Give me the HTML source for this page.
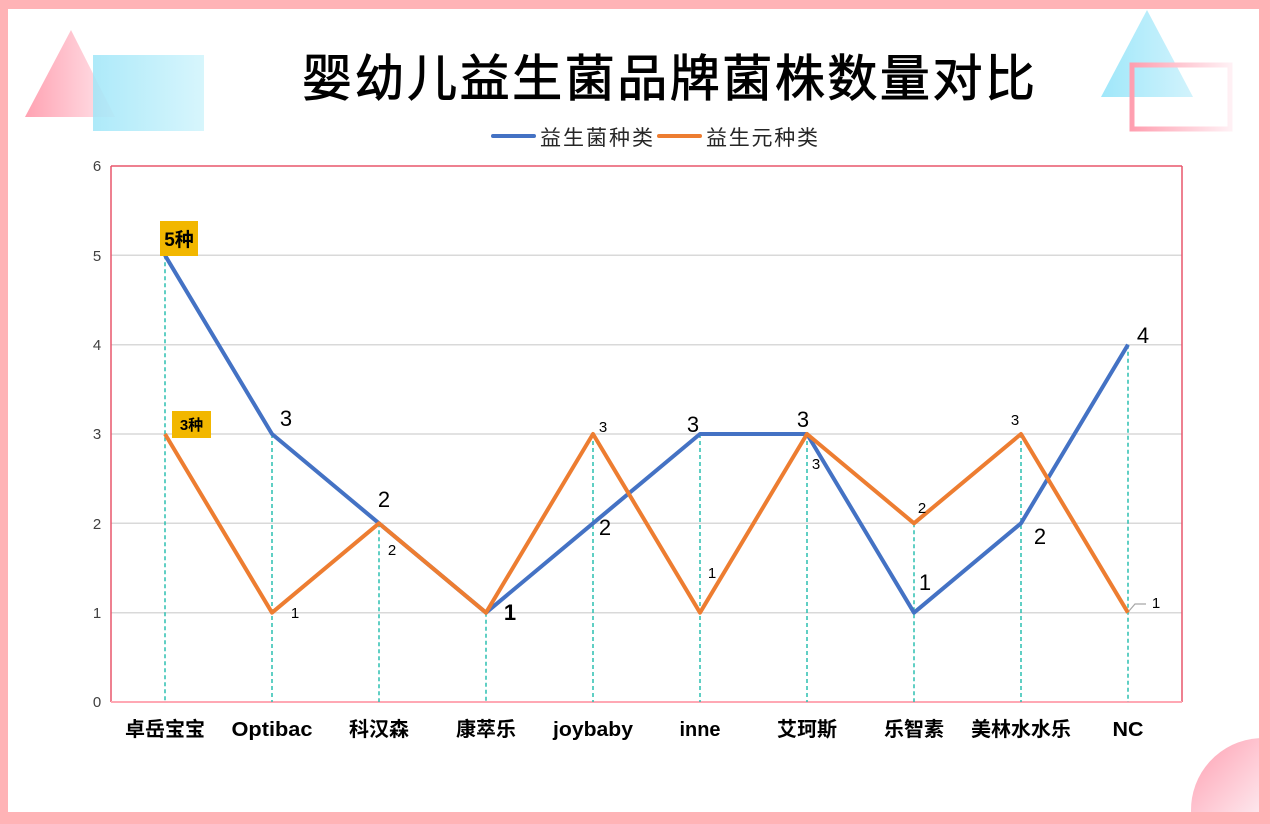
<!DOCTYPE html>
<html>
<head>
<meta charset="utf-8">
<style>
  html,body{margin:0;padding:0;background:#fff;width:1270px;height:824px;overflow:hidden;}
  svg{display:block;}
  .cjk{font-family:"Liberation Sans","Noto Sans CJK SC","WenQuanYi Zen Hei",sans-serif;}
  .num{font-family:"Liberation Sans","DejaVu Sans",sans-serif;}
</style>
</head>
<body>
<svg width="1270" height="824" viewBox="0 0 1270 824" xmlns="http://www.w3.org/2000/svg">
  <defs>
    <linearGradient id="gPinkTri" x1="0" y1="0" x2="1" y2="0">
      <stop offset="0" stop-color="#ffa2b2"/>
      <stop offset="1" stop-color="#ffe6ec"/>
    </linearGradient>
    <linearGradient id="gBlueRect" x1="0" y1="0" x2="1" y2="0">
      <stop offset="0" stop-color="#9fe6f8"/>
      <stop offset="1" stop-color="#d0f4fc"/>
    </linearGradient>
    <linearGradient id="gBlueTri" x1="0" y1="0" x2="1" y2="0">
      <stop offset="0" stop-color="#9fe7fa"/>
      <stop offset="1" stop-color="#d2f3fc"/>
    </linearGradient>
    <linearGradient id="gPinkRect" x1="0" y1="0" x2="1" y2="0">
      <stop offset="0" stop-color="#ff9fb0"/>
      <stop offset="1" stop-color="#fff0f4"/>
    </linearGradient>
    <linearGradient id="gCircle" x1="0" y1="0" x2="1" y2="1">
      <stop offset="0" stop-color="#ff9fb1"/>
      <stop offset="1" stop-color="#fde6ec"/>
    </linearGradient>
  </defs>

  <!-- frame -->
  <rect x="0" y="0" width="1270" height="824" fill="#ffb3b6"/>
  <rect x="8" y="9" width="1251" height="803" fill="#ffffff"/>

  <!-- decorations -->
  <polygon points="71,30 25,117 115,117" fill="url(#gPinkTri)"/>
  <rect x="93" y="55" width="111" height="76" fill="url(#gBlueRect)" opacity="0.85"/>
  <polygon points="1147,10 1101,97 1193,97" fill="url(#gBlueTri)"/>
  <rect x="1132" y="65" width="98" height="64" fill="none" stroke="url(#gPinkRect)" stroke-width="5"/>
  <path d="M1191.03,812 A72,72 0 0,1 1259,738.1 L1259,812 Z" fill="url(#gCircle)"/>

  <!-- title -->
  <text class="cjk" x="302" y="96" font-size="50" font-weight="normal" fill="#000" stroke="#000" stroke-width="0.9" textLength="733" lengthAdjust="spacing">婴幼儿益生菌品牌菌株数量对比</text>

  <!-- legend -->
  <line x1="493" y1="136" x2="534" y2="136" stroke="#4472c4" stroke-width="4" stroke-linecap="round"/>
  <text class="cjk" x="540" y="145" font-size="21" fill="#262626" textLength="113" lengthAdjust="spacing">益生菌种类</text>
  <line x1="659" y1="136" x2="700" y2="136" stroke="#ed7d31" stroke-width="4" stroke-linecap="round"/>
  <text class="cjk" x="706" y="145" font-size="21" fill="#262626" textLength="112" lengthAdjust="spacing">益生元种类</text>

  <!-- gridlines -->
  <g stroke="#d9d9d9" stroke-width="1.5">
    <line x1="111" y1="255.3" x2="1182" y2="255.3"/>
    <line x1="111" y1="344.7" x2="1182" y2="344.7"/>
    <line x1="111" y1="434" x2="1182" y2="434"/>
    <line x1="111" y1="523.3" x2="1182" y2="523.3"/>
    <line x1="111" y1="612.7" x2="1182" y2="612.7"/>
  </g>

  <!-- plot frame -->
  <line x1="111" y1="166" x2="1182" y2="166" stroke="#e8566c" stroke-width="1.5"/>
  <line x1="111" y1="166" x2="111" y2="702" stroke="#e8566c" stroke-width="1.5"/>
  <line x1="1182" y1="166" x2="1182" y2="702" stroke="#e8566c" stroke-width="1.5"/>
  <line x1="111" y1="702" x2="1182" y2="702" stroke="#ffa8b4" stroke-width="2"/>

  <!-- y tick labels -->
  <g class="num" font-size="15" fill="#404040" text-anchor="middle">
    <text x="97" y="171">6</text>
    <text x="97" y="261">5</text>
    <text x="97" y="350">4</text>
    <text x="97" y="439">3</text>
    <text x="97" y="529">2</text>
    <text x="97" y="618">1</text>
    <text x="97" y="707">0</text>
  </g>

  <!-- drop lines -->
  <g stroke="#2bbfb0" stroke-width="1.5" stroke-dasharray="4,3">
    <line x1="165" y1="255.3" x2="165" y2="702"/>
    <line x1="272" y1="434" x2="272" y2="702"/>
    <line x1="379" y1="523.3" x2="379" y2="702"/>
    <line x1="486" y1="612.7" x2="486" y2="702"/>
    <line x1="593" y1="434" x2="593" y2="702"/>
    <line x1="700" y1="434" x2="700" y2="702"/>
    <line x1="807" y1="434" x2="807" y2="702"/>
    <line x1="914" y1="523.3" x2="914" y2="702"/>
    <line x1="1021" y1="434" x2="1021" y2="702"/>
    <line x1="1128" y1="344.7" x2="1128" y2="702"/>
  </g>

  <!-- series -->
  <polyline fill="none" stroke="#4472c4" stroke-width="4" stroke-linejoin="round"
    points="165,255.3 272,434 379,523.3 486,612.7 593,523.3 700,434 807,434 914,612.7 1021,523.3 1128,344.7"/>
  <polyline fill="none" stroke="#ed7d31" stroke-width="4" stroke-linejoin="round"
    points="165,434 272,612.7 379,523.3 486,612.7 593,434 700,612.7 807,434 914,523.3 1021,434 1128,612.7"/>

  <!-- leader line for NC orange label -->
  <polyline fill="none" stroke="#a6a6a6" stroke-width="1.2" points="1129,611 1135,604 1146,604"/>

  <!-- label boxes -->
  <rect x="160" y="221" width="38" height="35" fill="#f2b700"/>
  <text class="cjk" x="179" y="246" font-size="19" font-weight="bold" fill="#000" text-anchor="middle">5种</text>
  <rect x="172" y="411" width="39" height="27" fill="#f2b700"/>
  <text class="cjk" x="191.5" y="430" font-size="15" font-weight="bold" fill="#000" text-anchor="middle">3种</text>

  <!-- blue data labels -->
  <g class="num" font-size="22" fill="#000" text-anchor="middle">
    <text x="286" y="426">3</text>
    <text x="384" y="507">2</text>
    <text x="510" y="620" font-weight="bold">1</text>
    <text x="605" y="535">2</text>
    <text x="693" y="432">3</text>
    <text x="803" y="427">3</text>
    <text x="925" y="590">1</text>
    <text x="1040" y="544">2</text>
    <text x="1143" y="343">4</text>
  </g>

  <!-- orange data labels -->
  <g class="num" font-size="15" fill="#000" text-anchor="middle">
    <text x="295" y="618">1</text>
    <text x="392" y="555">2</text>
    <text x="603" y="432">3</text>
    <text x="712" y="578">1</text>
    <text x="816" y="469">3</text>
    <text x="922" y="513">2</text>
    <text x="1015" y="425">3</text>
    <text x="1156" y="608">1</text>
  </g>

  <!-- x labels -->
  <g class="cjk" font-size="20" font-weight="bold" fill="#000" text-anchor="middle">
    <text x="165" y="736">卓岳宝宝</text>
    <text x="272" y="736" textLength="81" lengthAdjust="spacingAndGlyphs">Optibac</text>
    <text x="379" y="736">科汉森</text>
    <text x="486" y="736">康萃乐</text>
    <text x="593" y="736" textLength="80" lengthAdjust="spacingAndGlyphs">joybaby</text>
    <text x="700" y="736" textLength="41" lengthAdjust="spacingAndGlyphs">inne</text>
    <text x="807" y="736">艾珂斯</text>
    <text x="914" y="736">乐智素</text>
    <text x="1021" y="736">美林水水乐</text>
    <text x="1128" y="736" textLength="31" lengthAdjust="spacingAndGlyphs">NC</text>
  </g>
</svg>
</body>
</html>
